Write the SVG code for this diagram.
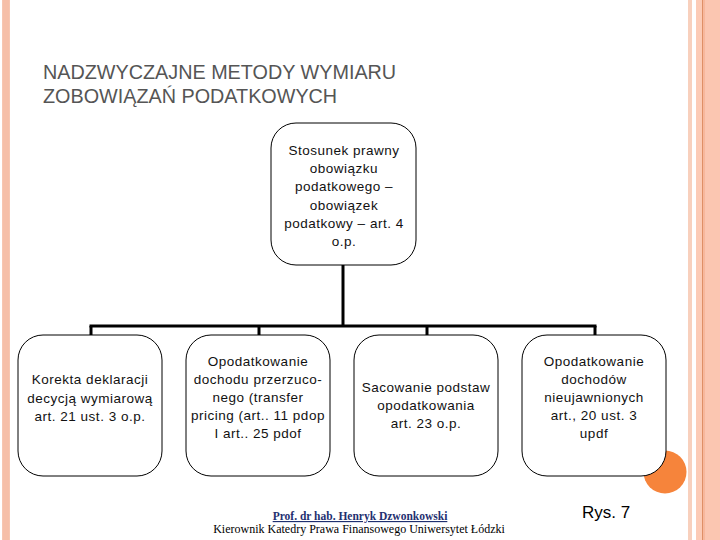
<svg xmlns="http://www.w3.org/2000/svg" width="720" height="540" viewBox="0 0 720 540">
<style>
.box{fill:#fff;stroke:#000;stroke-width:1}
.t{font-family:"Liberation Sans",Arial,sans-serif;font-size:13.5px;letter-spacing:0.5px;fill:#111;text-anchor:middle}
.conn{stroke:#000;stroke-width:3;fill:none;stroke-linecap:butt}
.title{font-family:"Liberation Sans",Arial,sans-serif;font-size:19.8px;fill:#555}
</style>
<rect width="720" height="540" fill="#fff"/>
<g id="decor">
<rect x="2" y="0" width="8" height="540" fill="#f7c6b1"/>
<rect x="3" y="0" width="6" height="540" fill="#f6bfa8"/>
<rect x="688" y="0" width="4" height="540" fill="#f8d0bd"/>
<rect x="696" y="0" width="24" height="540" fill="#fbc6b1"/>
<rect x="696" y="0" width="6" height="540" fill="#fccbb6"/>
<rect x="702" y="0" width="1.2" height="540" fill="#df8f66"/>
<rect x="703.2" y="0" width="1.8" height="540" fill="#f7b79c"/>
<circle cx="665" cy="472" r="21.5" fill="#f6843b"/>
</g>
<g id="title">
<text class="title" x="43" y="79">NADZWYCZAJNE METODY WYMIARU</text>
<text class="title" x="43" y="103">ZOBOWIĄZAŃ PODATKOWYCH</text>
</g>
<g id="connectors">
<line class="conn" x1="343" y1="265" x2="343" y2="326"/>
<line class="conn" x1="89.5" y1="326" x2="596.5" y2="326"/>
<line class="conn" x1="91" y1="326" x2="91" y2="335"/>
<line class="conn" x1="259" y1="326" x2="259" y2="335"/>
<line class="conn" x1="427" y1="326" x2="427" y2="335"/>
<line class="conn" x1="595" y1="326" x2="595" y2="335"/>
</g>
<g id="node-top">
<rect class="box" x="271" y="123" width="145" height="142" rx="25"/>
<text class="t" x="344" y="155">Stosunek prawny</text>
<text class="t" x="344" y="173">obowiązku</text>
<text class="t" x="344" y="191">podatkowego –</text>
<text class="t" x="344" y="209.5">obowiązek</text>
<text class="t" x="344" y="227.5">podatkowy – art. 4</text>
<text class="t" x="344" y="246">o.p.</text>
</g>
<g id="node-1">
<rect class="box" x="18" y="335" width="144" height="141" rx="25"/>
<text class="t" x="90" y="384">Korekta deklaracji</text>
<text class="t" x="90" y="402.5">decycją wymiarową</text>
<text class="t" x="90" y="421">art. 21 ust. 3 o.p.</text>
</g>
<g id="node-2">
<rect class="box" x="186" y="335" width="144" height="141" rx="25"/>
<text class="t" x="258" y="366">Opodatkowanie</text>
<text class="t" x="258" y="384">dochodu przerzuco-</text>
<text class="t" x="258" y="402">nego (transfer</text>
<text class="t" x="258" y="420">pricing (art.. 11 pdop</text>
<text class="t" x="258" y="438">I art.. 25 pdof</text>
</g>
<g id="node-3">
<rect class="box" x="354" y="335" width="144" height="141" rx="25"/>
<text class="t" x="426" y="392">Sacowanie podstaw</text>
<text class="t" x="426" y="410">opodatkowania</text>
<text class="t" x="426" y="428">art. 23 o.p.</text>
</g>
<g id="node-4">
<rect class="box" x="522" y="335" width="144" height="141" rx="25"/>
<text class="t" x="594" y="366">Opodatkowanie</text>
<text class="t" x="594" y="384">dochodów</text>
<text class="t" x="594" y="402">nieujawnionych</text>
<text class="t" x="594" y="420">art., 20 ust. 3</text>
<text class="t" x="594" y="438">updf</text>
</g>
<g id="footer">
<text x="360" y="520" text-anchor="middle" font-family="'Liberation Serif','Times New Roman',serif" font-size="11.5" font-weight="bold" fill="#1f3070" text-decoration="underline">Prof. dr hab. Henryk Dzwonkowski</text>
<text x="359" y="533" text-anchor="middle" font-family="'Liberation Serif','Times New Roman',serif" font-size="12" fill="#000">Kierownik Katedry Prawa Finansowego Uniwersytet Łódzki</text>
<text x="582" y="518" font-family="'Liberation Sans',Arial,sans-serif" font-size="17" fill="#000">Rys. 7</text>
</g>
</svg>
